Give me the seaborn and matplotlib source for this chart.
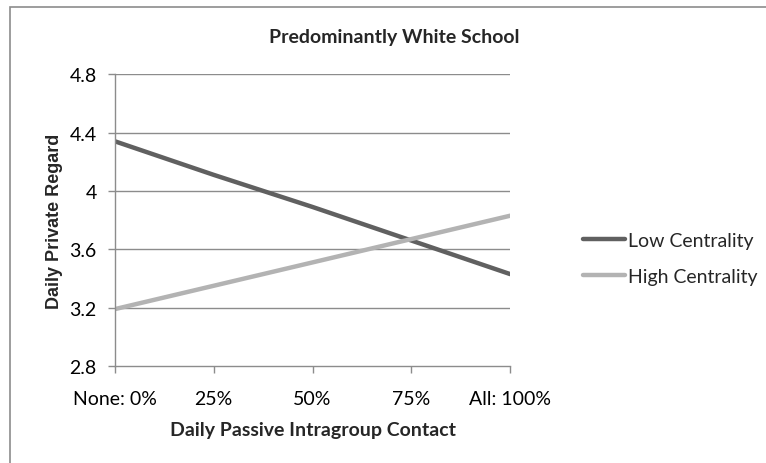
import matplotlib
matplotlib.use("Agg")
import matplotlib.pyplot as plt
from matplotlib.patches import Rectangle
import seaborn as sns
import pandas as pd

# data
contact_labels = ["None: 0%", "25%", "50%", "75%", "All: 100%"]
low_centrality = [4.34, 4.11, 3.89, 3.66, 3.43]
high_centrality = [3.19, 3.35, 3.51, 3.67, 3.83]
series_names = ["Low Centrality", "High Centrality"]
series_colors = ["#606060", "#b3b3b3"]

df = pd.DataFrame({
    "pos": list(range(len(contact_labels))) * 2,
    "regard": low_centrality + high_centrality,
    "group": [series_names[0]] * len(low_centrality) + [series_names[1]] * len(high_centrality),
})

sns.set_style("white", {"xtick.bottom": True, "ytick.left": True})
plt.rcParams["font.family"] = ["Lato", "DejaVu Sans"]

fig = plt.figure(figsize=(7.66, 4.64), dpi=100)
ax = fig.add_axes([0.150, 0.209, 0.516, 0.629])

sns.lineplot(data=df, x="pos", y="regard", hue="group", hue_order=series_names,
             palette=dict(zip(series_names, series_colors)), linewidth=3.2,
             ax=ax, legend=True)

grid_c = "#8c8c8c"
ax.set_xlim(0, len(contact_labels) - 1)
ax.set_ylim(2.8, 4.8)
ax.set_yticks([2.8, 3.2, 3.6, 4.0, 4.4, 4.8])
ax.set_yticklabels(["2.8", "3.2", "3.6", "4", "4.4", "4.8"])
ax.set_xticks(range(len(contact_labels)))
ax.set_xticklabels(contact_labels)
for y in [3.2, 3.6, 4.0, 4.4, 4.8]:
    ax.axhline(y, color=grid_c, linewidth=1.0, zorder=0)

for s in ["top", "right"]:
    ax.spines[s].set_visible(False)
for s in ["left", "bottom"]:
    ax.spines[s].set_color(grid_c)
    ax.spines[s].set_linewidth(1.0)
ax.tick_params(axis="both", which="both", direction="out", length=5, width=1.0,
               color=grid_c, labelsize=14, labelcolor="black")
ax.tick_params(axis="y", pad=8)
ax.tick_params(axis="x", pad=12)

ax.set_xlabel("Daily Passive Intragroup Contact", fontsize=14, fontweight="bold", labelpad=10)
ax.set_ylabel("Daily Private Regard", fontsize=13, fontweight="bold",
              family=["Liberation Sans", "DejaVu Sans"], labelpad=5)
fig.text(394 / 766, 1 - 37 / 464, "Predominantly White School", fontsize=14,
         fontweight="bold", ha="center", va="center")

ax.get_legend().remove()
handles, labels = ax.get_legend_handles_labels()
leg = fig.legend(handles, labels, loc="center left", bbox_to_anchor=(583 / 766, 1 - 259.5 / 464),
                 frameon=False, fontsize=14, borderpad=0, borderaxespad=0,
                 handlelength=2.15, handletextpad=0.15, labelspacing=0.95)
for line in leg.get_lines():
    line.set_linewidth(3.2)

# outer frame like the source image
fig.patches.append(Rectangle((10 / 766, -0.05), 1.2, 1.05 - 8 / 464,
                             transform=fig.transFigure, fill=False,
                             edgecolor="#8c8c8c", linewidth=1.2))

fig.savefig("out.png", dpi=100)
